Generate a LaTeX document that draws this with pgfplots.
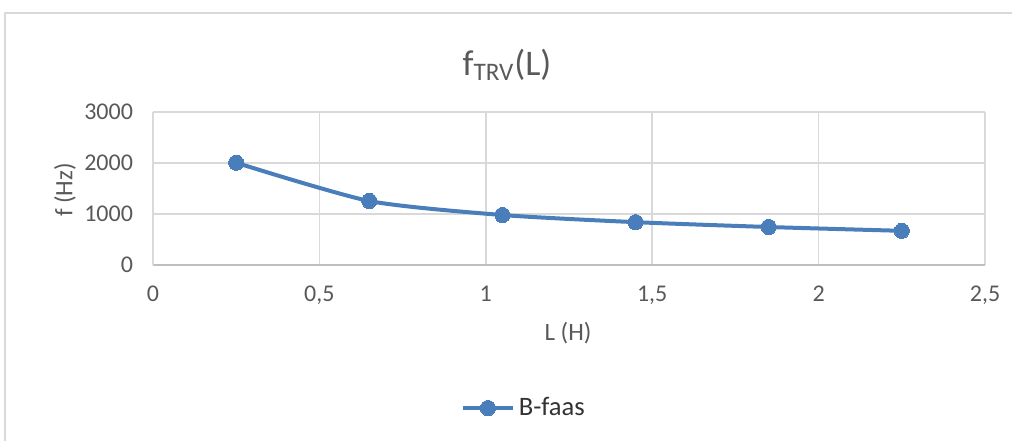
\documentclass[border=0pt]{standalone}
\usepackage{pgfplots}
\pgfplotsset{compat=1.18}
\usepackage{fontspec}
\setmainfont{Carlito}
\definecolor{txt}{HTML}{595959}
\definecolor{gridc}{HTML}{D9D9D9}
\definecolor{axc}{HTML}{BFBFBF}
\definecolor{ser}{HTML}{4A7EBB}
\begin{document}
\begin{tikzpicture}
\begin{axis}[
  scale only axis,
  width=416pt, height=76.5pt,
  xmin=0, xmax=2.5, ymin=0, ymax=3000,
  xtick={0,0.5,1,1.5,2,2.5},
  ytick={0,1000,2000,3000},
  grid=major,
  major grid style={gridc, line width=0.8pt},
  axis x line*=bottom, axis y line*=left,
  x axis line style={axc, line width=0.8pt, -},
  y axis line style={gridc, line width=0.8pt, -},
  major tick length=0pt,
  /pgf/number format/assume math mode=true,
  /pgf/number format/use comma,
  /pgf/number format/1000 sep={},
  ticklabel style={font=\fontsize{12}{14}\selectfont, text=txt},
  yticklabel style={xshift=-6.5pt},
  xticklabel style={yshift=-7pt},
  legend style={at={(0.447,-0.935)}, anchor=center, draw=none, fill=none,
    font=\fontsize{13.3}{16}\selectfont, text=black!80, legend columns=1},
  legend image code/.code={\draw[#1,mark repeat=2,mark phase=2] plot coordinates {(0pt,0pt) (12.5pt,0pt) (25pt,0pt)};},
]
\addplot[ser, line width=2pt, smooth, tension=0.4, mark=*, mark size=3.8pt, mark options={fill=ser, draw=ser, line width=0pt}]
  coordinates {(0.25,2005) (0.65,1255) (1.05,980) (1.45,840) (1.85,745) (2.25,670)};
\addlegendentry{B-faas}
\end{axis}
\node[text=txt, font=\fontsize{18}{20}\selectfont] at (177pt,100pt) {f\textsubscript{TRV}(L)};
\node[text=txt, font=\fontsize{12.5}{14}\selectfont, rotate=90] at (-44pt,37.5pt) {f (Hz)};
\node[text=txt, font=\fontsize{12.5}{14}\selectfont] at (207.5pt,-34pt) {L (H)};
\draw[gridc, line width=0.8pt] (-74pt,-95pt) -- (-74pt,126pt) -- (440pt,126pt);
\pgfresetboundingbox
\path[use as bounding box] (-76.5pt,-87.5pt) rectangle (429.5pt,132.5pt);
\end{tikzpicture}
\end{document}
